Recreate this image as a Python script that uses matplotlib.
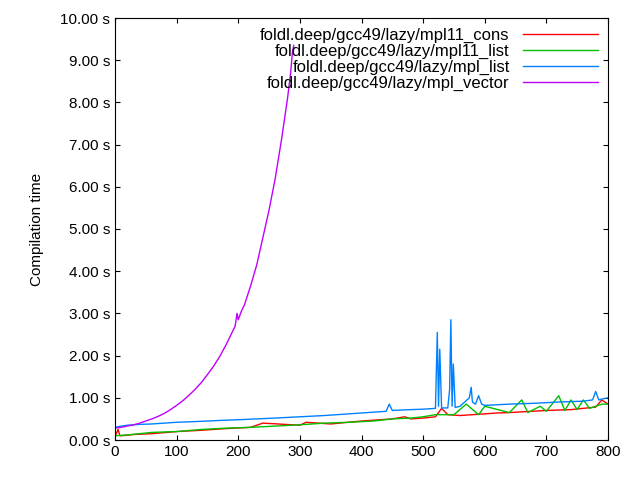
import matplotlib
matplotlib.use("Agg")
import matplotlib.pyplot as plt

x_vec = [0, 10, 20, 30, 40, 50, 60, 70, 80, 90, 100, 110, 120, 130, 140, 150, 160, 170, 180, 190, 195, 198, 200, 205, 210, 220, 230, 240, 250, 260, 270, 280, 285, 288, 290]
y_vec = [0.28, 0.3, 0.33, 0.36, 0.4, 0.45, 0.5, 0.56, 0.63, 0.72, 0.82, 0.93, 1.06, 1.2, 1.36, 1.55, 1.75, 1.98, 2.25, 2.55, 2.7, 3.0, 2.85, 3.05, 3.2, 3.65, 4.15, 4.8, 5.45, 6.2, 7.1, 8.1, 8.7, 9.2, 9.35]

x_list = [0, 10, 20, 40, 60, 80, 100, 120, 150, 180, 200, 230, 260, 300, 340, 380, 420, 440, 445, 450, 480, 500, 520, 523, 525, 527, 530, 532, 540, 543, 545, 547, 549, 552, 560, 575, 578, 580, 585, 590, 595, 600, 640, 680, 720, 760, 775, 780, 785, 790, 800]
y_list = [0.3, 0.33, 0.35, 0.37, 0.38, 0.4, 0.42, 0.43, 0.45, 0.47, 0.48, 0.5, 0.52, 0.55, 0.58, 0.62, 0.66, 0.68, 0.85, 0.7, 0.72, 0.73, 0.75, 2.55, 0.8, 2.15, 0.75, 0.76, 0.76, 1.2, 2.85, 0.8, 1.8, 0.77, 0.8, 1.0, 1.25, 0.9, 0.85, 1.05, 0.85, 0.82, 0.85, 0.87, 0.9, 0.92, 0.95, 1.15, 0.95, 0.97, 1.0]

x_cons = [0, 5, 8, 10, 30, 60, 100, 140, 180, 220, 240, 300, 310, 350, 400, 450, 470, 480, 500, 520, 530, 540, 560, 600, 620, 640, 700, 740, 760, 780, 790, 800]
y_cons = [0.08, 0.25, 0.1, 0.1, 0.13, 0.15, 0.2, 0.23, 0.27, 0.3, 0.4, 0.35, 0.42, 0.38, 0.45, 0.5, 0.55, 0.5, 0.52, 0.55, 0.75, 0.6, 0.58, 0.62, 0.64, 0.65, 0.7, 0.72, 0.75, 0.78, 0.95, 0.85]

x_l11 = [0, 20, 40, 60, 100, 140, 180, 220, 260, 300, 340, 380, 420, 450, 480, 500, 520, 550, 570, 590, 600, 640, 660, 670, 690, 700, 720, 730, 740, 750, 760, 770, 780, 790, 800]
y_l11 = [0.1, 0.12, 0.15, 0.18, 0.2, 0.25, 0.28, 0.3, 0.33, 0.36, 0.4, 0.42, 0.45, 0.5, 0.52, 0.55, 0.6, 0.6, 0.85, 0.6, 0.8, 0.65, 0.95, 0.65, 0.8, 0.68, 1.05, 0.7, 0.95, 0.72, 0.95, 0.75, 0.8, 0.85, 0.85]

plt.rcParams['font.family'] = ['Liberation Sans', 'DejaVu Sans']
fig = plt.figure(figsize=(6.4, 4.8), dpi=100)
ax = fig.add_axes([115/640, 40/480, 493/640, 422/480])
ax.plot(x_cons, y_cons, color='#ff0000', lw=1, label='foldl.deep/gcc49/lazy/mpl11_cons')
ax.plot(x_l11, y_l11, color='#00c000', lw=1, label='foldl.deep/gcc49/lazy/mpl11_list')
ax.plot(x_list, y_list, color='#0080ff', lw=1, label='foldl.deep/gcc49/lazy/mpl_list')
ax.plot(x_vec, y_vec, color='#c000ff', lw=1, label='foldl.deep/gcc49/lazy/mpl_vector')
ax.set_xlim(0, 800)
ax.set_ylim(0, 10)
ax.set_xticks(range(0, 801, 100))
ax.set_yticks(range(0, 11))
ax.set_yticklabels([f'{v:.2f} s' for v in range(0, 11)])
ax.tick_params(direction='in', top=True, right=True, labelsize=11)
ax.set_ylabel('Compilation time', fontsize=11, labelpad=12)
leg = ax.legend(loc='upper right', frameon=False, fontsize=12, markerfirst=False,
                handlelength=4.5, labelspacing=0.05, borderaxespad=0.2)
for t in leg.get_texts():
    t.set_ha('right')
leg._legend_box.align = 'right'
fig.savefig('out.png', dpi=100)
